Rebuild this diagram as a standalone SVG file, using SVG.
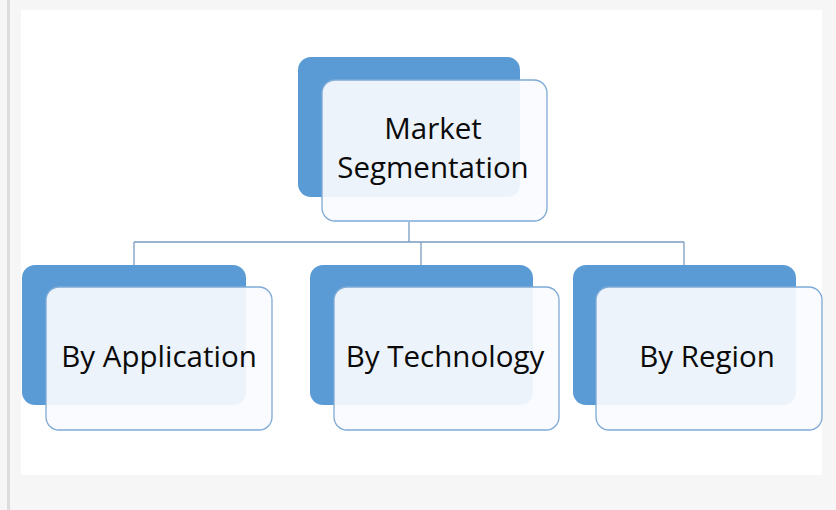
<svg xmlns="http://www.w3.org/2000/svg" width="836" height="510" viewBox="0 0 836 510">
<style>
.back{fill:#5b9bd5;}
.front{fill:#f8fbfe;fill-opacity:0.92;stroke:#7eaad6;stroke-width:1.3;}
.lbl{font-family:"Open Sans","Liberation Sans",sans-serif;font-size:29.5px;fill:#0a0a0a;text-anchor:middle;}
.conn{fill:none;stroke:#7a9cc0;stroke-width:1.3;}
</style>
<rect x="0" y="0" width="836" height="510" fill="#f6f6f6"/>
<rect x="7" y="0" width="3" height="510" fill="#dcdcdc"/>
<rect x="21" y="10" width="801" height="465" fill="#ffffff"/>
<g id="connectors">
<path class="conn" d="M409 222 V242 M134 242 H684 M134 242 V265 M421 242 V265 M684 242 V265"/>
</g>
<g id="node-market">
<rect class="back" x="298" y="57" width="222" height="140" rx="13"/>
<rect class="front" x="322" y="80" width="225" height="141" rx="13"/>
<text class="lbl"><tspan x="433" y="139">Market</tspan><tspan x="433" y="178">Segmentation</tspan></text>
</g>
<g id="node-application">
<rect class="back" x="22" y="265" width="224" height="140" rx="13"/>
<rect class="front" x="46" y="287" width="226" height="143" rx="13"/>
<text class="lbl" x="159" y="367">By Application</text>
</g>
<g id="node-technology">
<rect class="back" x="310" y="265" width="223" height="140" rx="13"/>
<rect class="front" x="334" y="287" width="225" height="143" rx="13"/>
<text class="lbl" x="445" y="367">By Technology</text>
</g>
<g id="node-region">
<rect class="back" x="573" y="265" width="223" height="140" rx="13"/>
<rect class="front" x="596" y="287" width="226" height="143" rx="13"/>
<text class="lbl" x="707" y="367">By Region</text>
</g>
</svg>
